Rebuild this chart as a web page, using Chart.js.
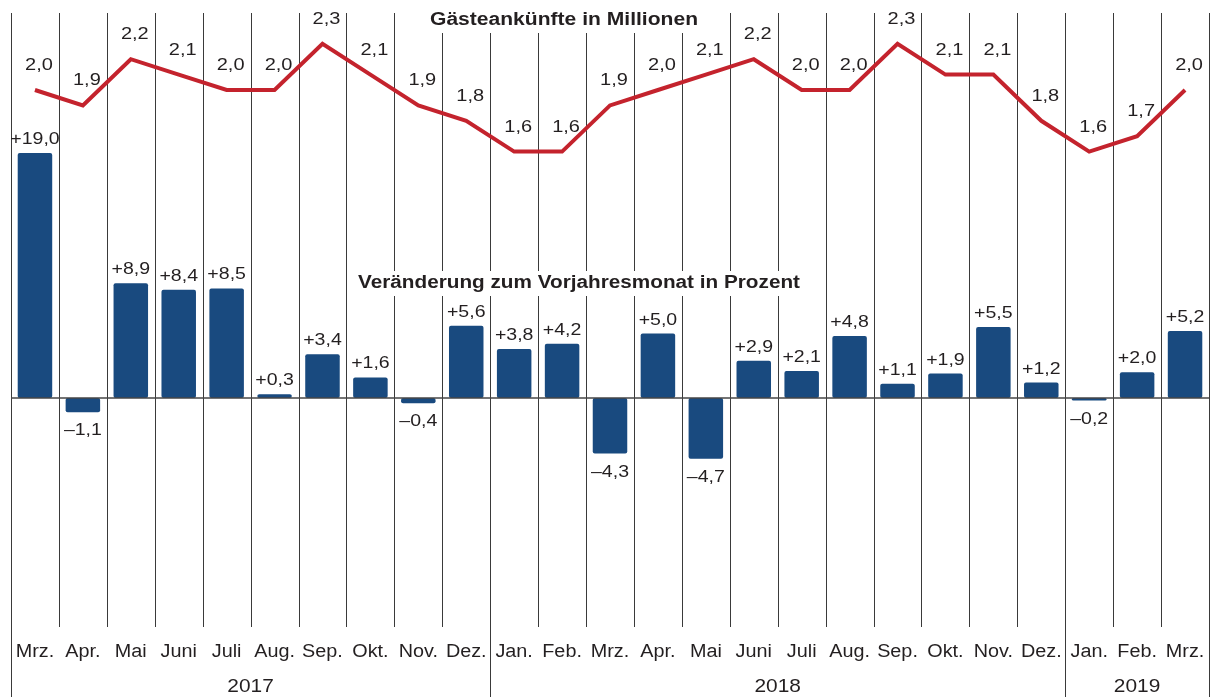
<!DOCTYPE html>
<html>
<head>
<meta charset="utf-8">
<title>Gästeankünfte</title>
<script src="https://cdn.jsdelivr.net/npm/chart.js@4/dist/chart.umd.min.js"></script>
<style>
  html, body { margin: 0; padding: 0; background: #fff; }
  #wrap { width: 1215px; height: 697px; }
</style>
</head>
<body>
<div id="wrap"><canvas id="chart" width="1215" height="697"></canvas></div>
<script>
// months Mrz 2017 .. Mrz 2019
const months = ["Mrz.", "Apr.", "Mai", "Juni", "Juli", "Aug.", "Sep.", "Okt.", "Nov.", "Dez.",
  "Jan.", "Feb.", "Mrz.", "Apr.", "Mai", "Juni", "Juli", "Aug.", "Sep.", "Okt.", "Nov.", "Dez.",
  "Jan.", "Feb.", "Mrz."];
const years = ["2017", "2018", "2019"];
const yearStart = [0, 10, 22]; // index of first month of each year

// Gästeankünfte in Millionen
const arrivals = [2.0, 1.9, 2.2, 2.1, 2.0, 2.0, 2.3, 2.1, 1.9, 1.8,
  1.6, 1.6, 1.9, 2.0, 2.1, 2.2, 2.0, 2.0, 2.3, 2.1, 2.1, 1.8,
  1.6, 1.7, 2.0];
// Veränderung zum Vorjahresmonat in Prozent
const change = [19.0, -1.1, 8.9, 8.4, 8.5, 0.3, 3.4, 1.6, -0.4, 5.6,
  3.8, 4.2, -4.3, 5.0, -4.7, 2.9, 2.1, 4.8, 1.1, 1.9, 5.5, 1.2,
  -0.2, 2.0, 5.2];

const lineTitle = "Gästeankünfte in Millionen";
const barTitle = "Veränderung zum Vorjahresmonat in Prozent";

const BAR = "#194a7f";
const LINE = "#c4232d";
const TEXT = "#231f20";

function fmt(v, sign) {
  const s = Math.abs(v).toFixed(1).replace(".", ",");
  if (!sign) return s;
  return (v < 0 ? "\u2013" : "+") + s;
}

// text stretched horizontally like the original artwork
function stretchText(ctx, txt, x, y, font, sx) {
  ctx.save();
  ctx.font = font;
  ctx.translate(x, y);
  ctx.scale(sx, 1);
  ctx.fillText(txt, 0, 0);
  ctx.restore();
}

const decor = {
  id: "decor",
  beforeDatasetsDraw(chart) {
    const { ctx, chartArea, scales } = chart;
    const x = scales.x;
    const n = months.length;
    const half = (x.getPixelForValue(1) - x.getPixelForValue(0)) / 2;
    ctx.save();
    ctx.lineWidth = 1;
    for (let i = 0; i <= n; i++) {
      const px = Math.round(i < n ? x.getPixelForValue(i) - half : x.getPixelForValue(n - 1) + half) + 0.5;
      const sep = yearStart.includes(i) || i === n;
      ctx.strokeStyle = sep ? "#3a3a3a" : "#3a3a3a";
      ctx.beginPath();
      ctx.moveTo(px, chartArea.top);
      ctx.lineTo(px, sep ? chart.height : chartArea.bottom);
      ctx.stroke();
    }
    ctx.restore();
  },
  afterDatasetsDraw(chart) {
    const { ctx, chartArea, scales } = chart;
    const x = scales.x, y = scales.y, y1 = scales.y1;
    const n = months.length;
    const half = (x.getPixelForValue(1) - x.getPixelForValue(0)) / 2;
    ctx.save();

    // zero line
    const z = y.getPixelForValue(0);
    ctx.strokeStyle = "rgba(70,70,70,0.75)";
    ctx.lineWidth = 2;
    ctx.beginPath();
    ctx.moveTo(chartArea.left, z);
    ctx.lineTo(chartArea.right, z);
    ctx.stroke();

    ctx.fillStyle = TEXT;
    ctx.textAlign = "center";
    ctx.textBaseline = "alphabetic";
    const valFont = "16px 'Liberation Sans', Arial, sans-serif";

    // bar labels
    change.forEach((v, i) => {
      const px = x.getPixelForValue(i);
      const py = y.getPixelForValue(v);
      if (v >= 0) stretchText(ctx, fmt(v, true), px, py - 9, valFont, 1.22);
      else stretchText(ctx, fmt(v, true), px, py + 23, valFont, 1.22);
    });

    // line labels
    arrivals.forEach((v, i) => {
      const px = x.getPixelForValue(i);
      const py = y1.getPixelForValue(v);
      stretchText(ctx, fmt(v, false), px + 4, py - 20, valFont, 1.25);
    });

    // titles with white box behind
    const titleFont = "bold 18px 'Liberation Sans', Arial, sans-serif";
    const titles = [[lineTitle, 564, 25, 268], [barTitle, 579, 288, 442]];
    titles.forEach(([t, cx, base, w]) => {
      ctx.font = titleFont;
      const sx = w / ctx.measureText(t).width;
      ctx.fillStyle = "#fff";
      ctx.fillRect(cx - w / 2 - 4, base - 17, w + 8, 25);
      ctx.fillStyle = TEXT;
      stretchText(ctx, t, cx, base, titleFont, sx);
    });

    // month labels
    const monFont = "18px 'Liberation Sans', Arial, sans-serif";
    months.forEach((m, i) => {
      stretchText(ctx, m, x.getPixelForValue(i), chartArea.bottom + 30, monFont, 1.1);
    });

    // year labels
    const yrFont = "19px 'Liberation Sans', Arial, sans-serif";
    years.forEach((yr, k) => {
      const a = yearStart[k];
      const b = k + 1 < yearStart.length ? yearStart[k + 1] : n;
      const left = x.getPixelForValue(a) - half;
      const right = x.getPixelForValue(b - 1) + half;
      stretchText(ctx, yr, (left + right) / 2, chartArea.bottom + 65, yrFont, 1.1);
    });

    ctx.restore();
  }
};

new Chart(document.getElementById("chart"), {
  data: {
    labels: months.map((m, i) => m + i),
    datasets: [
      {
        type: "line",
        data: arrivals,
        yAxisID: "y1",
        borderColor: LINE,
        borderWidth: 4,
        pointRadius: 0,
        tension: 0,
        order: 0
      },
      {
        type: "bar",
        data: change,
        yAxisID: "y",
        backgroundColor: BAR,
        barPercentage: 0.72,
        categoryPercentage: 1,
        borderRadius: 2,
        borderSkipped: false,
        order: 1
      }
    ]
  },
  options: {
    responsive: false,
    devicePixelRatio: 1,
    animation: false,
    layout: { padding: { left: 11, right: 6, top: 13, bottom: 70 } },
    plugins: { legend: { display: false }, tooltip: { enabled: false }, title: { display: false } },
    scales: {
      x: { display: false },
      y: { display: false, min: -17.75, max: 29.85 },
      y1: { display: false, min: -1.487, max: 2.5 }
    }
  },
  plugins: [decor]
});
</script>
</body>
</html>
